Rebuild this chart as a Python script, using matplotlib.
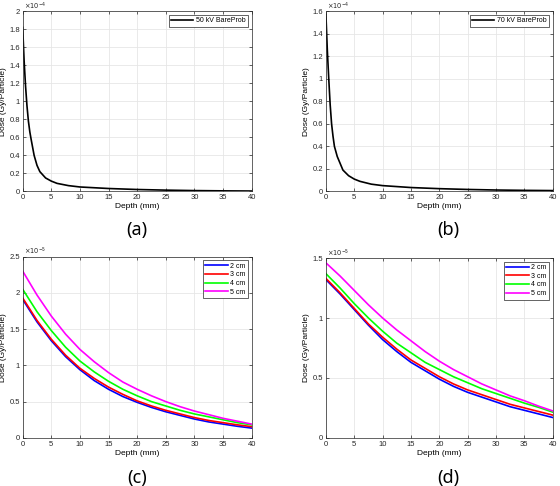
import numpy as np
import matplotlib
matplotlib.use("Agg")
import matplotlib.pyplot as plt
from matplotlib.ticker import FuncFormatter

plt.rcParams['font.family'] = ['Liberation Sans', 'DejaVu Sans']

# panel (a) and (b): bare probe depth dose, in units of 1e-4 Gy/particle
depth_ab = [0, 0.25, 0.5, 0.75, 1.0, 1.25, 1.5, 2, 2.5, 3, 4, 5, 6, 8, 10,
            15, 20, 25, 30, 35, 40]
dose_50kv = [1.82, 1.45, 1.17, 0.95, 0.78, 0.66, 0.57, 0.40, 0.29, 0.22, 0.15,
             0.115, 0.09, 0.065, 0.05, 0.033, 0.022, 0.015, 0.01, 0.007, 0.005]
dose_70kv = [1.57, 1.25, 1.0, 0.77, 0.6, 0.49, 0.40, 0.31, 0.25, 0.19, 0.14,
             0.11, 0.09, 0.065, 0.052, 0.035, 0.025, 0.018, 0.013, 0.01, 0.008]

# panel (c) and (d): applicator sizes, in units of 1e-5 Gy/particle
depth_cd = [0, 2.5, 5, 7.5, 10, 12.5, 15, 17.5, 20, 22.5, 25, 27.5, 30, 32.5,
            35, 37.5, 40]
sizes = ['2 cm', '3 cm', '4 cm', '5 cm']
colors = ['#0000ff', '#ff0000', '#00ff00', '#ff00ff']

dose_c = [
    [1.91, 1.60, 1.34, 1.12, 0.94, 0.79, 0.67, 0.57, 0.49, 0.42, 0.36, 0.31,
     0.26, 0.22, 0.19, 0.16, 0.135],
    [1.93, 1.62, 1.36, 1.14, 0.96, 0.82, 0.70, 0.60, 0.51, 0.44, 0.38, 0.33,
     0.28, 0.24, 0.21, 0.18, 0.155],
    [2.05, 1.74, 1.48, 1.25, 1.06, 0.91, 0.78, 0.67, 0.58, 0.50, 0.44, 0.38,
     0.33, 0.29, 0.25, 0.21, 0.18],
    [2.30, 1.97, 1.68, 1.43, 1.22, 1.05, 0.90, 0.77, 0.67, 0.58, 0.50, 0.43,
     0.37, 0.32, 0.27, 0.23, 0.19],
]
dose_d = [
    [1.32, 1.20, 1.07, 0.94, 0.82, 0.72, 0.63, 0.56, 0.49, 0.43, 0.38, 0.34,
     0.30, 0.26, 0.23, 0.20, 0.17],
    [1.33, 1.21, 1.08, 0.95, 0.84, 0.74, 0.65, 0.58, 0.51, 0.45, 0.40, 0.36,
     0.32, 0.28, 0.25, 0.22, 0.19],
    [1.37, 1.25, 1.12, 1.00, 0.89, 0.79, 0.71, 0.63, 0.57, 0.51, 0.46, 0.41,
     0.37, 0.33, 0.29, 0.255, 0.215],
    [1.46, 1.35, 1.23, 1.11, 1.00, 0.90, 0.81, 0.72, 0.64, 0.57, 0.51, 0.45,
     0.40, 0.35, 0.31, 0.265, 0.225],
]


def style_axes(ax, ymax, ystep, exp):
    ax.set_xlim(0, 40)
    ax.set_ylim(0, ymax)
    ax.set_xticks(np.arange(0, 41, 5))
    ax.set_yticks(np.arange(0, ymax + 1e-9, ystep))
    ax.yaxis.set_major_formatter(FuncFormatter(lambda v, p: '%g' % round(v, 3)))
    ax.grid(True, color='#e6e6e6', linewidth=0.6)
    ax.set_axisbelow(True)
    ax.tick_params(direction='in', top=True, right=True, labelsize=5.5,
                   length=2.5, width=0.5, pad=2, colors='#262626')
    for s in ax.spines.values():
        s.set_linewidth(0.5)
        s.set_color('#262626')
    ax.annotate(r'$\times10^{%d}$' % exp, xy=(0, 1), xycoords='axes fraction',
                xytext=(1, 1.2), textcoords='offset points',
                fontsize=4.8, ha='left', va='baseline', color='#262626')
    ax.set_xlabel('Depth (mm)', fontsize=6, labelpad=1.5)
    ax.set_ylabel('Dose (Gy/Particle)', fontsize=6, labelpad=1.5)


fig = plt.figure(figsize=(5.6, 4.86), dpi=100)
ax_a = fig.add_axes([0.0405, 0.606, 0.409, 0.371])
ax_b = fig.add_axes([0.582, 0.606, 0.405, 0.371])
ax_c = fig.add_axes([0.0405, 0.099, 0.409, 0.373])
ax_d = fig.add_axes([0.582, 0.099, 0.405, 0.370])

ax_a.plot(depth_ab, dose_50kv, color='black', lw=1.2, label='50 kV BareProb')
style_axes(ax_a, 2.0, 0.2, -4)

ax_b.plot(depth_ab, dose_70kv, color='black', lw=1.2, label='70 kV BareProb')
style_axes(ax_b, 1.6, 0.2, -4)

for i in range(4):
    ax_c.plot(depth_cd, dose_c[i], color=colors[i], lw=1.2, label=sizes[i])
    ax_d.plot(depth_cd, dose_d[i], color=colors[i], lw=1.2, label=sizes[i])
style_axes(ax_c, 2.5, 0.5, -5)
style_axes(ax_d, 1.5, 0.5, -5)

for ax in (ax_a, ax_b, ax_c, ax_d):
    leg = ax.legend(loc='upper right', fontsize=5, handlelength=3.2,
                    fancybox=False, framealpha=1, edgecolor='#262626',
                    borderpad=0.35, labelspacing=0.25, handletextpad=0.4,
                    borderaxespad=0.5)
    leg.get_frame().set_linewidth(0.5)

for x, y, s in [(0.245, 0.527, '(a)'), (0.800, 0.527, '(b)'),
                (0.245, 0.016, '(c)'), (0.800, 0.016, '(d)')]:
    fig.text(x, y, s, fontsize=13, ha='center', va='center',
             family=['Noto Sans', 'DejaVu Sans'])

fig.savefig('out.png', dpi=100)
